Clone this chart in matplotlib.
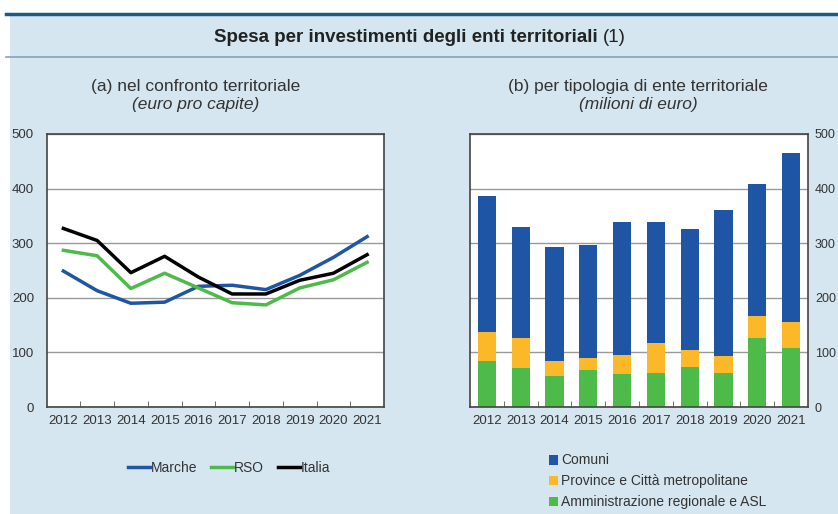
import numpy as np
import matplotlib.pyplot as plt
from matplotlib.patches import Rectangle
from matplotlib.lines import Line2D
from matplotlib.ticker import FixedLocator

# dati
anni = ['2012', '2013', '2014', '2015', '2016', '2017', '2018', '2019', '2020', '2021']
marche = [249, 213, 190, 192, 221, 223, 215, 241, 274, 312]
rso = [287, 277, 217, 245, 218, 191, 187, 218, 233, 265]
italia = [327, 305, 246, 276, 238, 207, 207, 232, 245, 279]

comuni = [250, 202, 208, 206, 243, 222, 222, 268, 242, 309]
province = [53, 56, 29, 22, 35, 54, 30, 30, 40, 48]
regioni = [84, 71, 56, 68, 60, 63, 74, 63, 127, 108]

BG = '#d5e6f1'
BLU = '#1f55a5'
VERDE = '#4dba4a'
GIALLO = '#fbb829'
TXT = '#333333'

plt.rcParams['font.family'] = ['Liberation Sans', 'DejaVu Sans']

fig = plt.figure(figsize=(8.38, 5.14), dpi=100, facecolor='white')
W, H = 838, 514

def fx(px):
    return px / W

def fy(py):
    return 1 - py / H

# sfondo e intestazione
fig.add_artist(Rectangle((fx(10), 0), 1 - fx(10), fy(14), transform=fig.transFigure,
                         facecolor=BG, edgecolor='none', zorder=0))
fig.add_artist(Line2D([fx(6), 1], [fy(13.5), fy(13.5)], transform=fig.transFigure,
                      color='#1b5a82', lw=2.5))
fig.add_artist(Line2D([fx(6), 1], [fy(57), fy(57)], transform=fig.transFigure,
                      color='#7fa3bd', lw=1.2))
fig.text(fx(598), fy(37), 'Spesa per investimenti degli enti territoriali', ha='right', va='center',
         fontsize=13.5, fontweight='bold', color='#222222')
fig.text(fx(603), fy(37), '(1)', ha='left', va='center', fontsize=13.5, color='#222222')

fig.text(fx(196), fy(86), '(a) nel confronto territoriale', ha='center', va='center', fontsize=12.5, color=TXT)
fig.text(fx(196), fy(104), '(euro pro capite)', ha='center', va='center', fontsize=12.5,
         style='italic', color=TXT)
fig.text(fx(638), fy(86), '(b) per tipologia di ente territoriale', ha='center', va='center',
         fontsize=12.5, color=TXT)
fig.text(fx(638), fy(104), '(milioni di euro)', ha='center', va='center', fontsize=12.5,
         style='italic', color=TXT)

x = np.arange(len(anni))


def stile(ax):
    ax.set_facecolor('white')
    ax.set_xlim(-0.5, len(anni) - 0.5)
    ax.set_ylim(0, 500)
    ax.set_yticks([0, 100, 200, 300, 400, 500])
    ax.set_xticks(x)
    ax.set_xticklabels(anni)
    ax.xaxis.set_minor_locator(FixedLocator(np.arange(0.5, len(anni) - 1, 1)))
    ax.tick_params(axis='x', which='major', length=0, pad=6, labelsize=9.5, labelcolor=TXT)
    ax.tick_params(axis='x', which='minor', direction='in', length=4, color='#555555')
    ax.tick_params(axis='y', length=0, labelsize=9.5, labelcolor=TXT, pad=9)
    ax.grid(axis='y', color='#999999', lw=1)
    ax.set_axisbelow(True)
    for s in ax.spines.values():
        s.set_color('#444444')
        s.set_linewidth(1.2)


# (a) linee
ax1 = fig.add_axes([fx(46.5), fy(407), fx(384) - fx(46.5), fy(134) - fy(407)])
stile(ax1)
ax1.plot(x, marche, color=BLU, lw=2.5, label='Marche')
ax1.plot(x, rso, color=VERDE, lw=2.5, label='RSO')
ax1.plot(x, italia, color='black', lw=2.5, label='Italia')
ax1.legend(loc='upper left', bbox_to_anchor=(fx(115), fy(448)), bbox_transform=fig.transFigure,
           ncol=3, frameon=False, fontsize=10, handlelength=1.6, handletextpad=0.05,
           columnspacing=1.0, labelcolor=TXT)

# (b) barre in pila
ax2 = fig.add_axes([fx(470), fy(407), fx(808) - fx(470), fy(134) - fy(407)])
stile(ax2)
ax2.yaxis.tick_right()
ax2.tick_params(axis='y', length=0, pad=5, labelsize=9)
w = 0.54
b1 = ax2.bar(x, regioni, w, color=VERDE, label='Amministrazione regionale e ASL')
b2 = ax2.bar(x, province, w, bottom=regioni, color=GIALLO, label='Province e Città metropolitane')
b3 = ax2.bar(x, comuni, w, bottom=np.array(regioni) + np.array(province), color=BLU, label='Comuni')
ax2.legend(handles=[b3, b2, b1], loc='upper left', bbox_to_anchor=(fx(536), fy(441)),
           bbox_transform=fig.transFigure, ncol=1, frameon=False, fontsize=10,
           handlelength=0.7, handleheight=0.7, handletextpad=0.2, labelspacing=0.5, labelcolor=TXT)

plt.savefig('out.png', dpi=100, facecolor=fig.get_facecolor())
